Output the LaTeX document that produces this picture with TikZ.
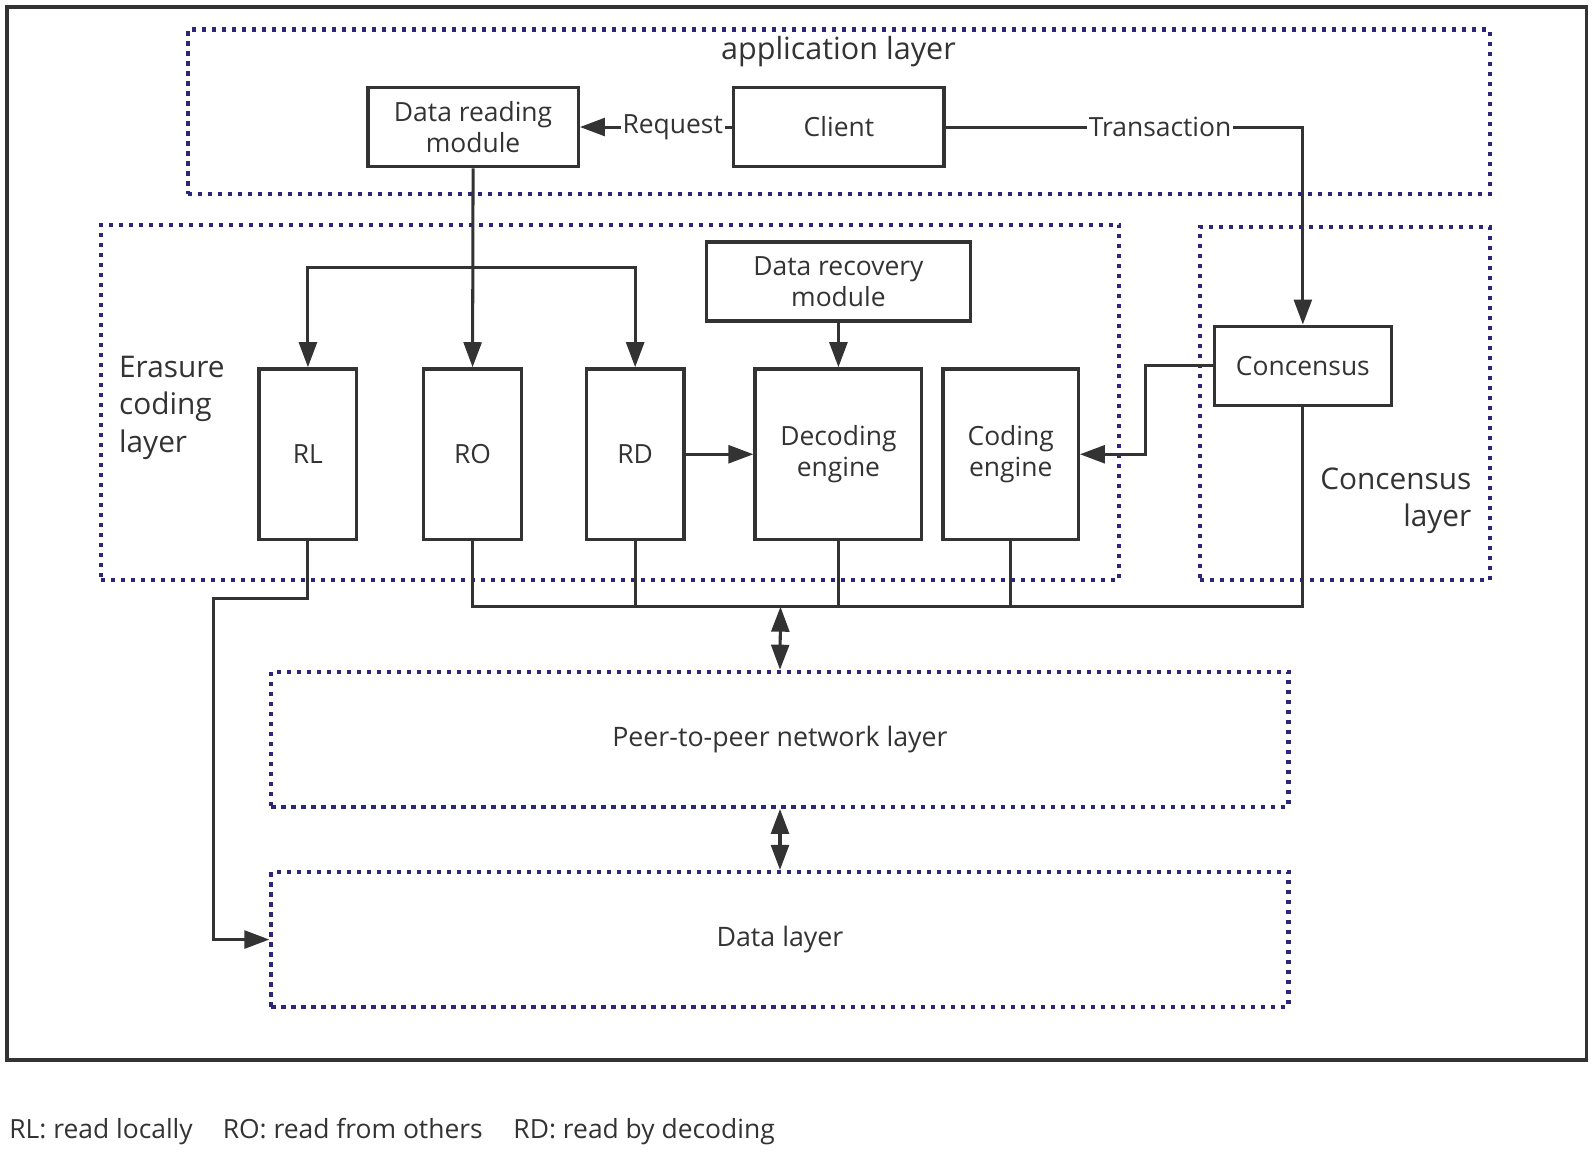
\documentclass[tikz,border=0pt]{standalone}
\usepackage{fontspec}
\setmainfont{Open Sans}
\usetikzlibrary{arrows.meta}
\definecolor{mynavy}{RGB}{43,38,122}
\definecolor{mygray}{RGB}{51,51,51}
\begin{document}
\begin{tikzpicture}[x=0.02cm,y=-0.02cm,
  box/.style={draw=mygray,line width=1.9pt,align=center,text=mygray,inner sep=0pt,
    font=\fontsize{14.8}{17.5}\selectfont},
  layer/.style={draw=mynavy,line width=2.3pt,dash pattern=on 2.3pt off 3.3pt,inner sep=0pt,
    text=mygray,font=\fontsize{15}{18}\selectfont},
  link/.style={draw=mygray,line width=1.7pt},
  tip/.style={-{Triangle[length=14pt,width=10pt]}},
  twotip/.style={{Triangle[length=14pt,width=10pt]}-{Triangle[length=14pt,width=10pt]}},
  lbl/.style={text=mygray,font=\fontsize{14.8}{17.5}\selectfont}]
    \draw[mygray,line width=1.9pt] (7,7) rectangle (1561,1043);
    % layers
    \node[layer,minimum width=25.62cm,minimum height=3.24cm] (app) at (825.5,110) {};
    \node[layer,minimum width=20.04cm,minimum height=7cm] (erasure) at (600,396) {};
    \node[layer,minimum width=5.7cm,minimum height=6.96cm] (conslayer) at (1323.5,397) {};
    \node[layer,minimum width=20.02cm,minimum height=2.66cm] (p2p) at (767.5,727.5) {Peer-to-peer network layer};
    \node[layer,minimum width=20.02cm,minimum height=2.66cm] (data) at (767.5,924.5) {Data layer};
    \node[lbl,font=\fontsize{17.1}{20}\selectfont] (applbl) at (825,51) {application layer};
    \node[lbl,anchor=west,align=left,font=\fontsize{16.7}{21}\selectfont] (eralbl) at (111,401) {Erasure\\coding\\layer};
    \node[lbl,anchor=east,align=right,font=\fontsize{16.7}{21}\selectfont] (conslbl) at (1454,493) {Concensus\\layer};
    % modules
    \node[box,minimum width=4.14cm,minimum height=1.56cm] (drm) at (465.5,125) {Data reading\\module};
    \node[box,minimum width=4.14cm,minimum height=1.56cm] (client) at (825.5,125) {Client};
    \node[box,minimum width=5.2cm,minimum height=1.56cm] (drec) at (825,277) {Data recovery\\module};
    \node[box,minimum width=1.92cm,minimum height=3.36cm] (rl) at (303,447) {RL};
    \node[box,minimum width=1.92cm,minimum height=3.36cm] (ro) at (465,447) {RO};
    \node[box,minimum width=1.92cm,minimum height=3.36cm] (rd) at (625,447) {RD};
    \node[box,minimum width=3.28cm,minimum height=3.36cm] (dec) at (825,447) {Decoding\\engine};
    \node[box,minimum width=2.66cm,minimum height=3.36cm] (cod) at (994.5,447) {Coding\\engine};
    \node[box,minimum width=3.48cm,minimum height=1.56cm] (cons) at (1282,360) {Concensus};
    % connectors
    \draw[link,tip] (client.west) -- node[lbl,pos=0.39,fill=white,inner sep=1pt]{Request} (drm.east);
    \draw[link,tip] (client.east) -| node[lbl,pos=0.3,fill=white,inner sep=1pt]{Transaction} (cons.north);
    \coordinate (fork) at (465,263);
    \draw[link,tip] (drm.south) -- (ro.north);
    \draw[link,tip] (fork) -| (rl.north);
    \draw[link,tip] (fork) -| (rd.north);
    \draw[link,tip] (drec.south) -- (dec.north);
    \draw[link,tip] (rd.east) -- (dec.west);
    \draw[link,tip] (cons.west) -- ++(-66,0) |- (cod.east);
    \coordinate (bus) at (768,597);
    \draw[link] (ro.south) |- (cons.south |- bus) -- (cons.south);
    \foreach \n in {rd,dec,cod}
        \draw[link] (\n.south) -- (\n.south |- bus);
    \draw[link,twotip] (bus) -- (p2p.north);
    \draw[link,twotip] (p2p.south) -- (data.north);
    \coordinate (rlbend) at (210,589);
    \draw[link,tip] (rl.south) |- (rlbend) |- (data.west);
    % legend
    \node[lbl,anchor=base west] (leg1) at (3,1120) {RL: read locally};
    \node[lbl,anchor=base west] (leg2) at (213,1120) {RO: read from others};
    \node[lbl,anchor=base west] (leg3) at (499,1120) {RD: read by decoding};
    \pgfresetboundingbox
    \useasboundingbox (0,0) rectangle (1568.5,1132.6);
\end{tikzpicture}
\end{document}
